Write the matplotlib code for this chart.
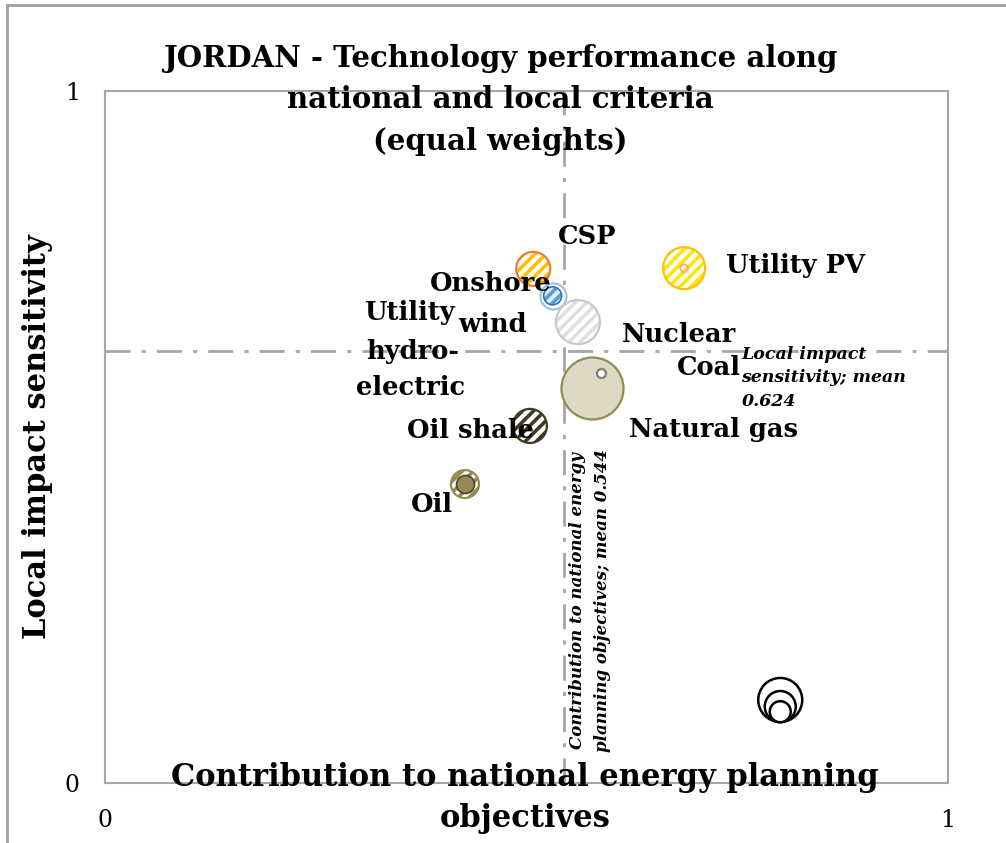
import matplotlib
matplotlib.use('agg')
import matplotlib.pyplot as plt
from matplotlib.lines import Line2D

# technologies (x = national contribution, y = local impact sensitivity)
names = ['Utility hydro-electric', 'CSP', 'Onshore wind', 'Nuclear', 'Utility PV',
         'Natural gas', 'Coal', 'Oil shale', 'Oil']
x_vals = [0.531, 0.508, 0.531, 0.561, 0.687, 0.578, 0.588, 0.504, 0.427]
y_vals = [0.704, 0.743, 0.704, 0.666, 0.744, 0.571, 0.592, 0.516, 0.432]
sizes = [60, 600, 350, 1004, 914, 1993, 42, 600, 406]

x_mean = 0.544
y_mean = 0.624

# size legend bubbles
legend_x = [0.801, 0.801, 0.801]
legend_y = [0.120, 0.1105, 0.103]
legend_s = [1004, 498, 229]

plt.rcParams['font.family'] = 'DejaVu Serif'
plt.rcParams['hatch.linewidth'] = 2.6

fig = plt.figure(figsize=(10.06, 8.43), dpi=100)
ax = fig.add_axes([105/1006, 1-783/843, 843/1006, 692/843])
ax.set_xlim(0, 1)
ax.set_ylim(0, 1)

# style per technology: (hatch colour or None, face, edge)
styles = {
    'Utility hydro-electric': (None, '#D9D9D9', '#BFBFBF'),
    'CSP': ('#FFC000', 'white', '#ED7D31'),
    'Onshore wind': (None, 'white', '#9DC3E6'),
    'Nuclear': ('#E0E0E0', 'white', '#C8C8C8'),
    'Utility PV': ('#FFE600', 'white', '#FFC000'),
    'Natural gas': (None, '#DDD9C4', '#948A54'),
    'Coal': (None, 'white', '#808080'),
    'Oil shale': ('#403A22', 'white', '#403A22'),
    'Oil': ('#948A54', 'white', '#948A54'),
}
HATCH = '///'

for n, x, y, s in zip(names, x_vals, y_vals, sizes):
    hc, fc, ec = styles[n]
    if hc is not None:
        with plt.rc_context({'hatch.color': hc}):
            ax.scatter([x], [y], s=s, facecolor=fc, edgecolor=hc, linewidth=0,
                       hatch=HATCH, zorder=3)
        ax.scatter([x], [y], s=s, facecolor='none', edgecolor=ec, linewidth=1.6, zorder=4)
    else:
        ax.scatter([x], [y], s=s, facecolor=fc, edgecolor=ec, linewidth=1.6, zorder=3)

# inner markers
i = names.index('Onshore wind')
with plt.rc_context({'hatch.color': '#5B9BD5'}):
    ax.scatter([x_vals[i]], [y_vals[i]], s=168, facecolor='#DEEBF7', edgecolor='#5B9BD5',
               linewidth=0, hatch=HATCH, zorder=5)
ax.scatter([x_vals[i]], [y_vals[i]], s=168, facecolor='none', edgecolor='#2E75B6',
           linewidth=1.2, zorder=6)
i = names.index('Utility PV')
ax.scatter([x_vals[i]], [y_vals[i]], s=30, facecolor='none', edgecolor='#F4B183',
           linewidth=1.5, zorder=6)
i = names.index('Oil')
ax.scatter([x_vals[i]], [y_vals[i]], s=168, facecolor='#948A54', edgecolor='#4A452A',
           linewidth=1.2, zorder=6)

ax.scatter(legend_x, legend_y, s=legend_s, facecolor='white', edgecolor='black',
           linewidth=1.8, zorder=3)

# mean lines
ax.axhline(y_mean, color='#A6A6A6', lw=2, dashes=(9, 4, 1.5, 4), zorder=1)
ax.axvline(x_mean, color='#A6A6A6', lw=2, dashes=(9, 4, 1.5, 4), zorder=1)

# labels: one entry per line, offsets in points from bubble centre
lab_kw = dict(fontsize=18.5, fontweight='bold', textcoords='offset points', zorder=8)
label_lines = {
    'Utility hydro-electric': [('Utility', (-103, -12)), ('hydro-', (-101, -40)),
                               ('electric', (-102, -66))],
    'CSP': [('CSP', (39, 23))],
    'Onshore wind': [('Onshore', (-44.5, 8.6)), ('wind', (-43, -21))],
    'Nuclear': [('Nuclear', (73, -9))],
    'Utility PV': [('Utility PV', (80, 2))],
    'Natural gas': [('Natural gas', (87, -30))],
    'Coal': [('Coal', (78, 4))],
    'Oil shale': [('Oil shale', (-42.5, -3.6))],
    'Oil': [('Oil', (-24, -15))],
}
for n, x, y in zip(names, x_vals, y_vals):
    for txt, off in label_lines[n]:
        ax.annotate(txt, (x, y), xytext=off, ha='center', va='center', **lab_kw)

ax.text(0.755, y_mean + 0.008, 'Local impact\nsensitivity; mean\n0.624', fontsize=12.5,
        fontweight='bold', style='italic', va='top', ha='left', linespacing=1.5, zorder=8)
ax.text(x_mean + 0.031, 0.045, 'Contribution to national energy\nplanning objectives; mean 0.544',
        fontsize=12, fontweight='bold', style='italic', rotation=90, va='bottom',
        ha='center', linespacing=1.64, zorder=8)

ax.set_xticks([0, 1])
ax.set_yticks([0, 1])
ax.set_xticklabels(['0', '1'], fontsize=17)
ax.set_yticklabels(['0', '1'], fontsize=17)
ax.tick_params(axis='y', length=0, pad=18)
ax.tick_params(axis='x', length=0, pad=19)
for sp in ax.spines.values():
    sp.set_color('#A6A6A6')
    sp.set_linewidth(1.5)

fig.text(0.497, 1 - 100/843, 'JORDAN - Technology performance along\nnational and local criteria\n(equal weights)',
         ha='center', va='center', fontsize=21, fontweight='bold', linespacing=1.56)
fig.text(38/1006, 1 - 437/843, 'Local impact sensitivity', rotation=90, ha='center',
         va='center', fontsize=22, fontweight='bold')
fig.text(525/1006, 1 - 798/843, 'Contribution to national energy planning\nobjectives',
         ha='center', va='center', fontsize=22, fontweight='bold', linespacing=1.42, zorder=10)

# outer frame
fig.add_artist(Line2D([7/1006, 7/1006], [0, 1 - 5/843], color='#A0A0A0', lw=2))
fig.add_artist(Line2D([7/1006, 1], [1 - 5/843, 1 - 5/843], color='#A0A0A0', lw=2))

fig.savefig('out.png', dpi=100)
